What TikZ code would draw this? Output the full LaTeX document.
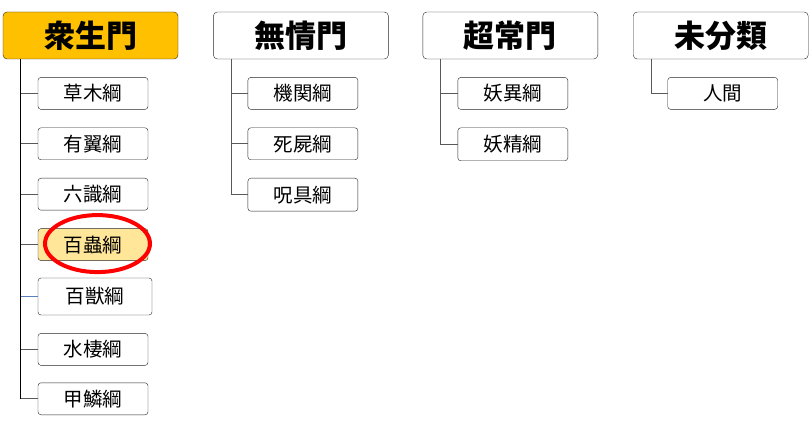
\documentclass[tikz,border=0pt]{standalone}
\usepackage{fontspec}
\setmainfont{Noto Sans CJK JP}
\usepackage{tikz}
\usetikzlibrary{positioning, calc, shapes.geometric}
\definecolor{gateorange}{HTML}{FFC000}
\definecolor{markfill}{HTML}{FFE699}
\definecolor{linegray}{HTML}{595959}
\definecolor{oddblue}{HTML}{5B7FBF}

\begin{document}
\begin{tikzpicture}[
    node distance=18pt,
    gate/.style={rectangle, draw=black!85, fill=white, rounded corners=4pt, minimum width=175pt, minimum height=47pt, inner sep=0pt, font=\fontsize{31}{31}\selectfont\bfseries},
    cls/.style={rectangle, draw=black!85, fill=white, rounded corners=3pt, minimum width=110pt, minimum height=32pt, inner sep=0pt, font=\fontsize{19.5}{19.5}\selectfont},
    link/.style={draw=linegray, line width=1pt},
    spine/.style={draw=black, line width=1pt}
]
\useasboundingbox (0pt,0pt) rectangle (809pt,-422pt);

% gates
\node[gate, fill=gateorange] (shujo) at (90.5pt,-35.5pt) {衆生門};
\node[gate, right=35pt of shujo] (mujo) {無情門};
\node[gate, right=34pt of mujo] (chojo) {超常門};
\node[gate, right=35pt of chojo] (mibun) {未分類};

% 衆生門
\node[cls, below=of shujo, xshift=2.5pt] (soumoku) {草木綱};
\node[cls, below=of soumoku] (yuyoku) {有翼綱};
\node[cls, below=of yuyoku] (rokushiki) {六識綱};
\node[cls, below=of rokushiki, fill=markfill] (hyakuchu) {百蟲綱};
\node[cls, below=17pt of hyakuchu, minimum width=114pt, minimum height=37pt, xshift=2pt] (hyakuju) {百獣綱};
\node[cls, below=of hyakuju, xshift=-2pt] (suisei) {水棲綱};
\node[cls, below=17pt of suisei] (kourin) {甲鱗綱};

% 無情門
\node[cls, below=of mujo, xshift=2pt] (kikan) {機関綱};
\node[cls, below=of kikan] (shishi) {死屍綱};
\node[cls, below=of shishi, minimum height=33pt] (jugu) {呪具綱};

% 超常門
\node[cls, below=of chojo, xshift=2.5pt] (youi) {妖異綱};
\node[cls, below=of youi, minimum height=33pt] (yousei) {妖精綱};

% 未分類
\node[cls, below=of mibun, xshift=2pt] (ningen) {人間};

% spine tops
\coordinate (s1) at ($(shujo.south west)+(18pt,0)$);
\coordinate (s2) at ($(mujo.south west)+(18pt,0)$);
\coordinate (s3) at ($(chojo.south west)+(18pt,0)$);
\coordinate (s4) at ($(mibun.south west)+(18pt,0)$);

% connectors
\foreach \c in {soumoku, yuyoku, rokushiki, hyakuchu, suisei, kourin}
  \draw[link] (s1 |- \c.west) -- (\c.west);
\draw[link, draw=oddblue] (s1 |- hyakuju.west) -- (hyakuju.west);
\draw[spine] (s1) -- (s1 |- kourin.west);
\foreach \c in {kikan, shishi, jugu}
  \draw[link] (s2) |- (\c.west);
\foreach \c in {youi, yousei}
  \draw[link] (s3) |- (\c.west);
\draw[link] (s4) |- (ningen.west);

% highlight
\node[ellipse, draw=red, line width=4pt, minimum width=105pt, minimum height=57pt, xshift=4.5pt, yshift=1pt] (mark) at (hyakuchu.center) {};
\end{tikzpicture}
\end{document}
